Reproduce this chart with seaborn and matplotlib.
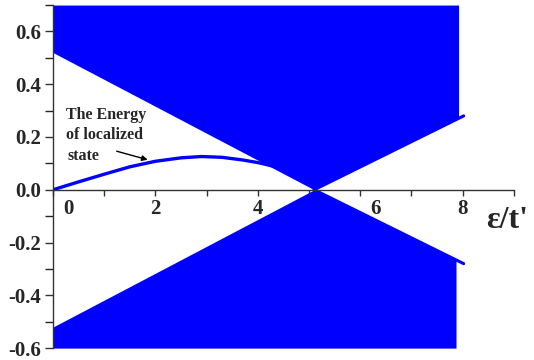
import matplotlib
matplotlib.use("Agg")
import matplotlib.pyplot as plt
import matplotlib.transforms as mtransforms
import numpy as np
import pandas as pd
import seaborn as sns

# band edges (upper band lower edge; lower band mirrors it)
edge_x = [0.0, 5.1, 8.02]
edge_upper = [0.52, 0.0, 0.28]
edge_lower = [-0.52, 0.0, -0.28]
band_right_upper = 7.92
band_right_lower = 7.87

# energy of the localized state
loc_x = [0.0, 0.5, 1.0, 1.5, 2.0, 2.5, 2.9, 3.3, 3.7, 4.0, 4.4, 4.8]
loc_e = [0.0, 0.03, 0.059, 0.087, 0.108, 0.121, 0.126, 0.123, 0.113,
         0.103, 0.085, 0.06]

x_ticks = [0, 1, 2, 3, 4, 5, 6, 7, 8, 9]
x_labels = ["0", "", "2", "", "4", "", "6", "", "8", ""]
y_ticks = [-0.6, -0.4, -0.2, 0.0, 0.2, 0.4, 0.6]
y_labels = ["-0.6", "-0.4", "-0.2", "0.0", "0.2", "0.4", "0.6"]

sns.set_theme(style="ticks")
plt.rcParams["font.family"] = ["Liberation Serif", "DejaVu Serif"]
plt.rcParams["font.weight"] = "bold"

blue = "#0000ff"
fig = plt.figure(figsize=(5.34, 3.6), dpi=100)
ax = fig.add_axes([0.0993, 0.033, 0.863, 0.953])

# filled bands
fx = np.array([edge_x[0], edge_x[1], band_right_upper])
fy = np.interp(fx, edge_x, edge_upper)
ax.fill_between(fx, fy, 0.7, color=blue, lw=0)
fx2 = np.array([edge_x[0], edge_x[1], band_right_lower])
fy2 = np.interp(fx2, edge_x, edge_lower)
ax.fill_between(fx2, -0.6, fy2, color=blue, lw=0)
ax.plot(edge_x[1:], edge_upper[1:], color=blue, lw=2.2, solid_capstyle="round")
ax.plot(edge_x[1:], edge_lower[1:], color=blue, lw=2.2, solid_capstyle="round")

df = pd.DataFrame({"x": loc_x, "e": loc_e})
sns.lineplot(data=df, x="x", y="e", ax=ax, color=blue, lw=2.4, legend=False)

ax.set_xlim(0, 9)
ax.set_ylim(-0.6, 0.7)
ax.spines["top"].set_visible(False)
ax.spines["right"].set_visible(False)
ax.spines["bottom"].set_position(("data", 0))
for s in ("left", "bottom"):
    ax.spines[s].set_color("#333333")
    ax.spines[s].set_linewidth(1.0)
    ax.spines[s].set_zorder(5)

ax.set_xticks(x_ticks)
ax.set_xticklabels(x_labels)
ax.set_yticks(y_ticks)
ax.set_yticklabels(y_labels)
ax.set_yticks(np.arange(-0.5, 0.75, 0.2), minor=True)
ax.tick_params(axis="both", direction="out", width=1,
               color="#333333", labelsize=15)
ax.tick_params(axis="y", which="both", length=6, pad=2.5)
ax.tick_params(axis="x", length=4, pad=3)
for lab in ax.get_xticklabels() + ax.get_yticklabels():
    lab.set_fontweight("bold")
# Origin-style label nudges for "0" and "6"
for i, dx in ((0, 15), (6, 15)):
    lab = ax.get_xticklabels()[i]
    lab.set_transform(lab.get_transform() +
                      mtransforms.ScaledTranslation(dx / 100, 0, fig.dpi_scale_trans))
ax.set_xlabel("")
ax.set_ylabel("")

ax.text(8.86, -0.117, "ε/t'", fontsize=23, fontweight="bold",
        ha="center", va="center")
ax.text(0.25, 0.284, "The Energy", fontsize=11.5, fontweight="bold", va="center")
ax.text(0.25, 0.208, "of localized", fontsize=11.5, fontweight="bold", va="center")
ax.text(0.29, 0.129, "state", fontsize=11.5, fontweight="bold", va="center")
ax.annotate("", xy=(1.9, 0.111), xytext=(1.19, 0.149),
            arrowprops=dict(arrowstyle="-|>", color="black", lw=1,
                            mutation_scale=8))

fig.savefig("out.png", dpi=100)
